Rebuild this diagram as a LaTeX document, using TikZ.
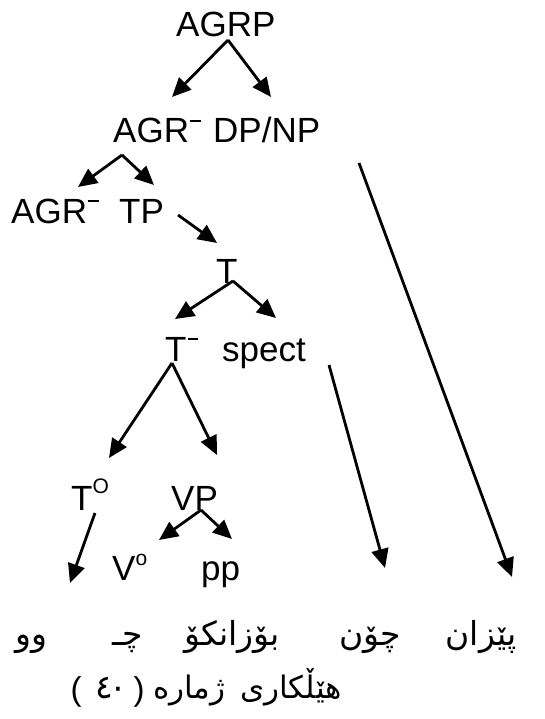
\documentclass[tikz,border=0pt]{standalone}
\usepackage{fontspec}
\setmainfont{Liberation Sans}
\newfontfamily\kufont[Script=Arabic]{DejaVu Sans}
\TeXXeTstate=1
\usetikzlibrary{arrows.meta}
\newcommand{\supminus}{\kern1pt\raisebox{0.6em}{\rule{0.3em}{0.05em}}}
\newcommand{\supsmall}[2]{\raisebox{#1}{\fontsize{21}{24}\selectfont #2}}
\begin{document}
\begin{tikzpicture}[x=1pt,y=-1pt,
  lab/.style={anchor=base west, inner sep=0pt, font=\fontsize{35}{41}\selectfont},
  ku/.style={anchor=base, inner sep=0pt, font=\kufont\fontsize{33}{38}\selectfont},
  kucap/.style={inner sep=0pt, font=\kufont\fontsize{31}{36}\selectfont},
  par/.style={anchor=base, inner sep=0pt, font=\fontsize{33}{38}\selectfont},
  edge/.style={line width=2.8pt, -{Triangle[length=19pt,width=17pt]}}]
\useasboundingbox (0,0) rectangle (544,719);
% labels
\node[lab] (agrp) at (176,37) {AGRP};
\node[lab] (agr1) at (113,143) {AGR\supminus};
\node[lab] (dpnp) at (213,143) {DP/NP};
\node[lab] (agr2) at (11,223) {AGR\supminus};
\node[lab] (tp) at (119,223) {TP};
\node[lab] (t) at (216,283) {T};
\node[lab] (tbar) at (165,361) {T\supminus};
\node[lab] (spect) at (222,361) {spect};
\node[lab] (tzero) at (71,510) {T\supsmall{17pt}{O}};
\node[lab] (vp) at (171,510) {VP};
\node[lab] (vzero) at (112,580) {V\supsmall{15pt}{o}};
\node[lab] (pp) at (201,580) {pp};
% Kurdish words
\node[ku] (w1) at (31,645) {\beginR وو\endR};
\node[ku] (w2) at (128,645) {\beginR چـ\endR};
\node[ku] (w3) at (232,645) {\beginR بۆزانکۆ\endR};
\node[ku] (w4) at (370,645) {\beginR چۆن\endR};
\node[ku] (w5) at (481,645) {\beginR پێزان\endR};
% caption
\node[par] (capl) at (76,700) {(};
\node[ku] (capd4) at (104,698) {٤};
\node[ku] (capd0) at (118,698) {٠};
\node[par] (capr) at (139,700) {)};
\node[kucap, anchor=base west] (capw2) at (153,698) {\beginR ژماره\endR};
\node[kucap, anchor=base east] (capw1) at (342,698) {\beginR هێڵکاری\endR};
% connector ends
\coordinate (agrp-o) at (228,40);
\coordinate (agr1-i) at (172,97);
\coordinate (dpnp-i) at (271,97);
\coordinate (agr1-o) at (122,155);
\coordinate (agr2-i) at (78,187);
\coordinate (tp-i) at (154,185);
\coordinate (tp-o) at (178,215);
\coordinate (t-i) at (217,243);
\coordinate (t-o) at (233,281);
\coordinate (tbar-i) at (175,319);
\coordinate (spect-i) at (276,318);
\coordinate (tbar-o) at (172,363);
\coordinate (tzero-i) at (109,458);
\coordinate (vp-i) at (217,455);
\coordinate (spect-o) at (329,365);
\coordinate (w4-i) at (385,568);
\coordinate (dpnp-o) at (359,163);
\coordinate (w5-i) at (512,577);
\coordinate (tzero-o) at (95,513);
\coordinate (w1-i) at (70,583);
\coordinate (vp-o) at (201,510);
\coordinate (vzero-i) at (159,540);
\coordinate (pp-i) at (232,539);
% connectors
\draw[edge] (agrp-o) -- (agr1-i);
\draw[edge] (agrp-o) -- (dpnp-i);
\draw[edge] (agr1-o) -- (agr2-i);
\draw[edge] (agr1-o) -- (tp-i);
\draw[edge] (tp-o) -- (t-i);
\draw[edge] (t-o) -- (tbar-i);
\draw[edge] (t-o) -- (spect-i);
\draw[edge] (tbar-o) -- (tzero-i);
\draw[edge] (tbar-o) -- (vp-i);
\draw[edge] (spect-o) -- (w4-i);
\draw[edge] (dpnp-o) -- (w5-i);
\draw[edge] (tzero-o) -- (w1-i);
\draw[edge] (vp-o) -- (vzero-i);
\draw[edge] (vp-o) -- (pp-i);
\end{tikzpicture}
\end{document}
